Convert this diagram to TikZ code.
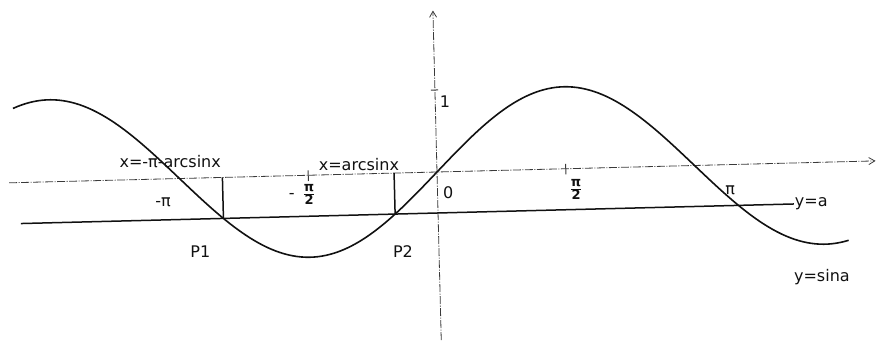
\documentclass[tikz,border=0pt]{standalone}
\usepackage{fontspec}
\setsansfont{DejaVu Sans}
\usetikzlibrary{arrows.meta}
\definecolor{cAxis}{HTML}{3A3A3A}
\definecolor{cInk}{HTML}{111111}
\newcommand{\halfpi}{$\frac{\mbox{\fontsize{13}{13}\selectfont\bfseries π}}{\mbox{\fontsize{13}{13}\selectfont\bfseries 2}}$}
\tikzset{
  font=\sffamily\fontsize{16}{16}\selectfont,
  >={Straight Barb[length=6pt, width=7pt]},
  axis/.style={->, draw=cAxis, line width=0.8pt,
               dash pattern=on 8pt off 1.5pt on 1pt off 1.5pt},
  tickmark/.style={draw=cAxis, line width=1pt},
  curve/.style={draw=cInk, line width=1.6pt, line join=round},
  level/.style={draw=cInk, line width=1.5pt},
  drop/.style={draw=cInk, line width=1.5pt},
  lbl/.style={inner sep=1pt, text=cInk},
}

\begin{document}
\begin{tikzpicture}
\useasboundingbox (-437pt,-171pt) rectangle (441pt,172pt);

\begin{scope}[rotate=1.45, x=82pt, y=82pt]

% ------------------------------------------------------------------ axes
\coordinate (O)  at (0,0);
\coordinate (xl) at (-5.22,0);
\coordinate (xr) at (5.35,0);
\coordinate (yb) at (0,-2.05);
\coordinate (yt) at (0,1.97);
\draw[axis] (xl) -- (xr);
\draw[axis] (yb) -- (yt);
\draw[tickmark] ({-pi/2},-0.07) -- ({-pi/2},0.06);
\draw[tickmark] ({pi/2},-0.07) -- ({pi/2},0.06);
\draw[tickmark] (-0.05,1) -- (0.04,1);

% ------------------------------------------------------------------ y=sin a and y=a
\draw[curve] plot[domain=-5.15:5.0, samples=200, smooth] (\x, {sin(\x r)});
\coordinate (la) at (-5.09,-0.5);
\coordinate (ra) at (4.34,-0.5);
\draw[level] (la) -- (ra);

% the two solutions in [-pi, 0]
\coordinate (P1) at ({-5*pi/6},-0.5);
\coordinate (P2) at ({-pi/6},-0.5);
\coordinate (A1) at ({-5*pi/6},0);
\coordinate (A2) at ({-pi/6},0);
\draw[drop] (P1) -- (A1);
\draw[drop] (P2) -- (A2);

% ------------------------------------------------------------------ labels
\node[lbl] (sol1)  at (-3.25,0.205) {x=-π-arcsinx};
\node[lbl] (sol2)  at (-0.95,0.11)  {x=arcsinx};
\node[lbl] (mpi)   at (-3.35,-0.29) {-π};
\node[lbl] (mhalf) at (-1.65,-0.23) {-\hspace{8pt}\halfpi};
\node[lbl] (zero)  at (0.13,-0.26)  {0};
\node[lbl] (one)   at (0.12,0.86)   {1};
\node[lbl] (phalf) at (1.69,-0.26)  {\halfpi};
\node[lbl] (ppi)   at (3.57,-0.31)  {π};
\node[lbl, anchor=west] (lvl) at (ra) {y=a};
\node[lbl] (sine)  at (4.66,-1.40)  {y=sina};
\node[lbl] (lP1)   at (-2.91,-0.90) {P1};
\node[lbl] (lP2)   at (-0.44,-0.96) {P2};

\end{scope}
\end{tikzpicture}
\end{document}
